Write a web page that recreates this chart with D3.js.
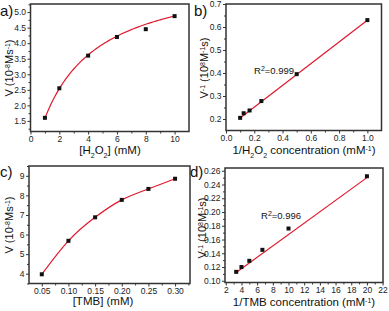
<!DOCTYPE html>
<html>
<head>
<meta charset="utf-8">
<script src="https://cdn.jsdelivr.net/npm/d3@7"></script>
<style>
  body { margin: 0; background: #fff; }
  svg { font-family: "Liberation Sans", Arial, sans-serif; }
</style>
</head>
<body>
<div id="chart"></div>
<script>
// panel a: V vs [H2O2]
var h2o2_conc = [1, 2, 4, 6, 8, 10];
var h2o2_v = [1.6, 2.55, 3.6, 4.2, 4.45, 4.87];
var h2o2_fit = {vmax: 6.33, km: 2.99};

// panel b: 1/V vs 1/[H2O2]
var h2o2_inv_conc = [0.1, 0.125, 0.1667, 0.25, 0.5, 1.0];
var h2o2_inv_v = [0.205, 0.225, 0.237, 0.278, 0.395, 0.63];
var h2o2_line = {x: [0.1, 1.0], y: [0.204, 0.629]};

// panel c: V vs [TMB]
var tmb_conc = [0.05, 0.10, 0.15, 0.20, 0.25, 0.30];
var tmb_v = [3.97, 5.68, 6.88, 7.77, 8.33, 8.85];

// panel d: 1/V vs 1/[TMB]
var tmb_inv_conc = [3.33, 4, 5, 6.67, 10, 20];
var tmb_inv_v = [0.113, 0.120, 0.129, 0.145, 0.176, 0.252];
var tmb_line = {x: [3.33, 20], y: [0.112, 0.250]};

var W = 389, H = 311;
var svg = d3.select("#chart").append("svg")
    .attr("width", W).attr("height", H);

var axisCol = "#333", fitCol = "#e0182d";

// draws one framed panel, returns scales
function panel(opt) {
  var x = d3.scaleLinear().domain(opt.xdom).range([opt.left, opt.right]);
  var y = d3.scaleLinear().domain(opt.ydom).range([opt.bottom, opt.top]);
  var g = svg.append("g");

  // minor ticks
  g.append("g").attr("transform", "translate(0," + opt.bottom + ")")
    .call(d3.axisBottom(x).tickValues(opt.xminor).tickSize(2).tickFormat(""))
    .call(s => s.select(".domain").remove());
  g.append("g").attr("transform", "translate(" + opt.left + ",0)")
    .call(d3.axisLeft(y).tickValues(opt.yminor).tickSize(2).tickFormat(""))
    .call(s => s.select(".domain").remove());

  var xa = g.append("g").attr("transform", "translate(0," + opt.bottom + ")")
    .call(d3.axisBottom(x).tickValues(opt.xticks).tickSize(3).tickPadding(1).tickFormat(opt.xfmt));
  xa.select(".domain").remove();
  var ya = g.append("g").attr("transform", "translate(" + opt.left + ",0)")
    .call(d3.axisLeft(y).tickValues(opt.yticks).tickSize(3).tickPadding(1.5).tickFormat(opt.yfmt));
  ya.select(".domain").remove();
  g.selectAll(".tick line").attr("stroke", axisCol).attr("stroke-width", 1);
  g.selectAll(".tick text").attr("fill", "#222").style("font-size", "8.5px")
    .style("font-family", "Liberation Sans, Arial, sans-serif");

  // frame
  g.append("rect")
    .attr("x", opt.left).attr("y", opt.top)
    .attr("width", opt.right - opt.left).attr("height", opt.bottom - opt.top)
    .attr("fill", "none").attr("stroke", axisCol).attr("stroke-width", 1.5);

  // panel letter
  svg.append("text").attr("x", opt.lx).attr("y", opt.ly)
    .style("font-size", "15px").attr("fill", "#111").text(opt.letter);

  return {x: x, y: y, g: g};
}

function ytitle(cx, cy, parts) {
  var t = svg.append("text")
    .attr("transform", "translate(" + cx + "," + cy + ") rotate(-90)")
    .attr("text-anchor", "middle").style("font-size", "11px").attr("fill", "#111");
  addParts(t, parts);
}
function xtitle(cx, cy, parts) {
  var t = svg.append("text").attr("x", cx).attr("y", cy)
    .attr("text-anchor", "middle").style("font-size", "11.5px").attr("fill", "#111");
  addParts(t, parts);
}
function addParts(t, parts) {
  parts.forEach(function(p) {
    var s = t.append("tspan").text(p[0]);
    if (p[1] === "sup") s.attr("baseline-shift", "super").style("font-size", "7px");
    if (p[1] === "sub") s.attr("baseline-shift", "sub").style("font-size", "7px");
  });
}

function points(p, xs, ys) {
  p.g.selectAll("rect.pt").data(xs).enter().append("rect").attr("class", "pt")
    .attr("x", (d) => p.x(d) - 2).attr("y", (d, i) => p.y(ys[i]) - 2)
    .attr("width", 4).attr("height", 4).attr("fill", "#111");
}

function fitPath(p, pts, curve) {
  p.g.append("path").datum(pts)
    .attr("d", d3.line().x(d => p.x(d[0])).y(d => p.y(d[1])).curve(curve || d3.curveLinear))
    .attr("fill", "none").attr("stroke", fitCol).attr("stroke-width", 1.2);
}

// ---- a ----
var pa = panel({
  left: 30.5, right: 189, top: 4, bottom: 131.5,
  xdom: [0, 11], ydom: [1.16, 5.26],
  xticks: d3.range(0, 11, 2), xminor: d3.range(1, 11, 2),
  yticks: d3.range(1.5, 5.01, 0.5), yminor: d3.range(1.25, 5.26, 0.5),
  xfmt: d3.format("d"), yfmt: d3.format(".1f"),
  letter: "a)", lx: 0, ly: 16
});
var curveA = d3.range(1, 10.001, 0.1).map(s => [s, h2o2_fit.vmax * s / (h2o2_fit.km + s)]);
fitPath(pa, curveA);
points(pa, h2o2_conc, h2o2_v);
ytitle(13, 68, [["V (10"], ["-8", "sup"], ["Ms"], ["-1", "sup"], [")"]]);
xtitle(110, 154, [["[H"], ["2", "sub"], ["O"], ["2", "sub"], ["] (mM)"]]);

// ---- b ----
var pb = panel({
  left: 226, right: 381.5, top: 4, bottom: 130.5,
  xdom: [0, 1.1], ydom: [0.15, 0.7],
  xticks: d3.range(0, 1.01, 0.2), xminor: d3.range(0.1, 1.1, 0.2),
  yticks: d3.range(0.2, 0.701, 0.1), yminor: d3.range(0.25, 0.7, 0.1),
  xfmt: d3.format(".1f"), yfmt: d3.format(".1f"),
  letter: "b)", lx: 194, ly: 16
});
fitPath(pb, h2o2_line.x.map((v, i) => [v, h2o2_line.y[i]]));
points(pb, h2o2_inv_conc, h2o2_inv_v);
svg.append("text").attr("x", 254).attr("y", 74).style("font-size", "9.5px").attr("fill", "#111")
  .call(t => addParts(t, [["R"], ["2", "sup"], ["=0.999"]]));
ytitle(208, 68, [["V"], ["-1", "sup"], [" (10"], ["8", "sup"], ["M"], ["-1", "sup"], ["s)"]]);
xtitle(304, 154, [["1/H"], ["2", "sub"], ["O"], ["2", "sub"], [" concentration (mM"], ["-1", "sup"], [")"]]);

// ---- c ----
var pc = panel({
  left: 29, right: 190, top: 166, bottom: 283.5,
  xdom: [0.026, 0.328], ydom: [3.5, 9.5],
  xticks: d3.range(0.05, 0.301, 0.05), xminor: d3.range(0.075, 0.33, 0.05),
  yticks: d3.range(4, 9.01, 1), yminor: d3.range(3.5, 9.51, 1),
  xfmt: d3.format(".2f"), yfmt: d3.format("d"),
  letter: "c)", lx: 0, ly: 177
});
fitPath(pc, tmb_conc.map((v, i) => [v, tmb_v[i]]), d3.curveNatural);
points(pc, tmb_conc, tmb_v);
ytitle(13, 225, [["V (10"], ["-8", "sup"], ["Ms"], ["-1", "sup"], [")"]]);
xtitle(103, 305, [["[TMB] (mM)"]]);

// ---- d ----
var pd = panel({
  left: 225, right: 383, top: 168, bottom: 282.5,
  xdom: [1.9, 22.05], ydom: [0.0975, 0.264],
  xticks: d3.range(2, 22.01, 2), xminor: d3.range(3, 22, 2),
  yticks: d3.range(0.10, 0.2601, 0.02), yminor: d3.range(0.11, 0.26, 0.02),
  xfmt: d3.format("d"), yfmt: d3.format(".2f"),
  letter: "d)", lx: 190, ly: 177
});
fitPath(pd, tmb_line.x.map((v, i) => [v, tmb_line.y[i]]));
points(pd, tmb_inv_conc, tmb_inv_v);
svg.append("text").attr("x", 261).attr("y", 219).style("font-size", "9.5px").attr("fill", "#111")
  .call(t => addParts(t, [["R"], ["2", "sup"], ["=0.996"]]));
ytitle(206, 228, [["V"], ["-1", "sup"], [" (10"], ["8", "sup"], ["M"], ["-1", "sup"], ["s)"]]);
xtitle(304, 306, [["1/TMB concentration (mM"], ["-1", "sup"], [")"]]);
</script>
</body>
</html>
